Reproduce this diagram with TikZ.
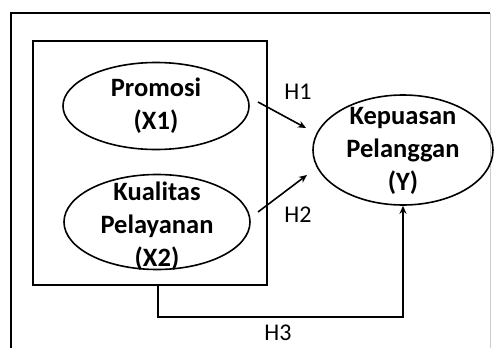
\documentclass[tikz,border=0pt]{standalone}
\usepackage{fontspec}
\setmainfont{Carlito}
\usetikzlibrary{shapes.geometric,arrows.meta}
\begin{document}
\begin{tikzpicture}[x=1pt,y=1pt,
  frame/.style={line width=2.6pt},
  txt/.style={inner sep=0pt,align=center,font=\fontsize{26.5}{33}\selectfont\bfseries},
  var/.style={draw,ellipse,line width=1.6pt,inner sep=0pt,txt},
  hlab/.style={font=\fontsize{24}{26}\selectfont},
  arr/.style={line width=1.6pt,-{Stealth[length=8pt,width=7pt]}}]
\useasboundingbox (0,0) rectangle (496,-348);
\fill[white] (0,0) rectangle (496,-348);
% outer frame
\coordinate (otl) at (11,-13);
\coordinate (otr) at (490,-13);
\coordinate (obl) at (11,-348);
\coordinate (obr) at (490,-348);
\draw[frame] (obl) -- (otl) -- (otr);
\draw[gray!40,line width=0.8pt] (otr) -- (obr);
% inner box
\node[draw,frame,minimum width=234pt,minimum height=244pt,inner sep=0pt] (box) at (150,-163) {};
% variables
\node[var,minimum width=186pt,minimum height=87pt] (x1) at (156,-106) {Promosi\\(X1)};
\node[var,minimum width=186pt,minimum height=95pt] (x2) at (157,-222) {};
\node[txt] (x2t) at (157,-226) {Kualitas\\Pelayanan\\(X2)};
\node[var,minimum width=180pt,minimum height=110pt] (y) at (403,-150) {};
\node[txt] (yt) at (403,-151) {Kepuasan\\Pelanggan\\(Y)};
% arrows
\coordinate (a1s) at (258,-102);
\coordinate (a1e) at (306,-128);
\coordinate (a2s) at (258,-212);
\coordinate (a2e) at (307,-175);
\draw[arr] (a1s) -- (a1e);
\draw[arr] (a2s) -- (a2e);
\coordinate (s) at (158,-285);
\draw[arr] (s) -- (158,-317) -| (y.south);
% labels
\node[hlab] (h1) at (298,-92) {H1};
\node[hlab] (h2) at (298,-215) {H2};
\node[hlab] (h3) at (278,-333) {H3};
\end{tikzpicture}
\end{document}
